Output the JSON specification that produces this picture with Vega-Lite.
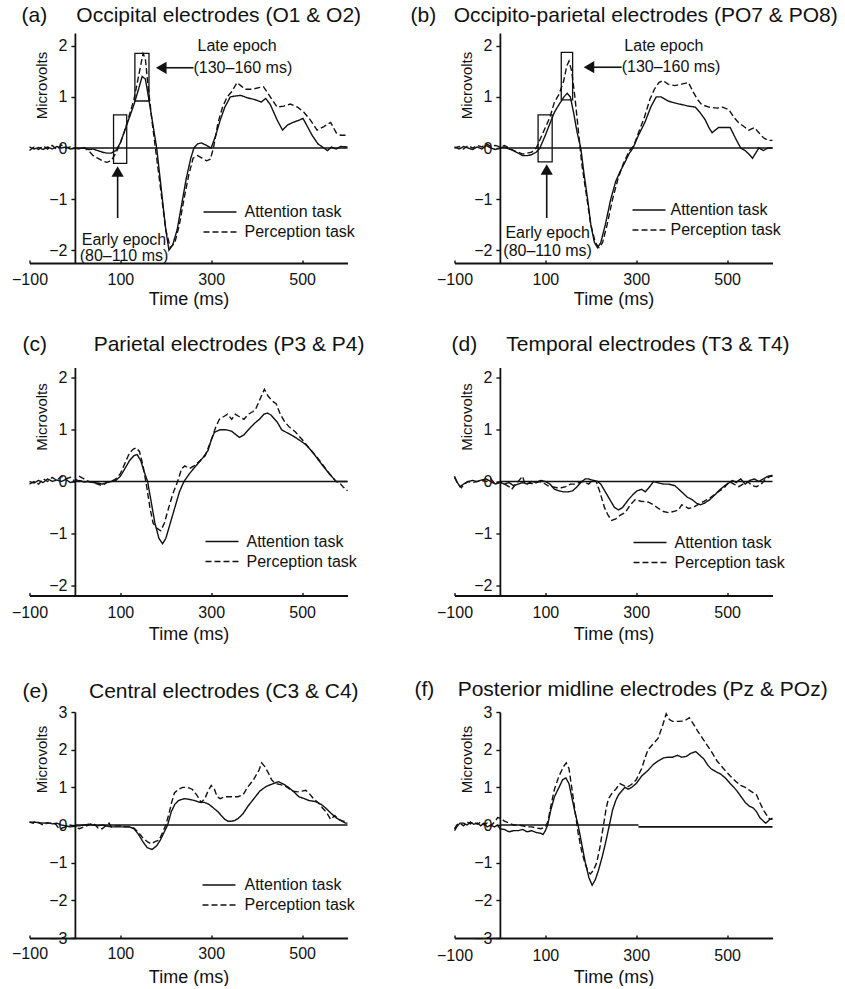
{
"$schema":"https://vega.github.io/schema/vega-lite/v6.json",
"padding":{"left":10.5,"top":5,"right":0,"bottom":0},
"config":{
 "view":{"stroke":null},
 "font":"Liberation Sans",
 "axis":{"grid":false,"domainColor":"#111","domainWidth":1.8,"tickColor":"#111","tickWidth":1.4,"labelColor":"#111","titleColor":"#111","labelFont":"Liberation Sans","titleFont":"Liberation Sans","labelFontSize":16,"titleFontWeight":"normal","labelFlush":false,"labelOverlap":false},
 "axisX":{"tickSize":-3,"titleFontSize":18,"titleBaseline":"alphabetic"},
 "axisY":{"tickSize":4,"labelPadding":4,"titleFontSize":15,"titleAngle":270,"titleAlign":"center","titleBaseline":"bottom","titleX":-25},
 "title":{"font":"Liberation Sans","fontSize":21,"fontWeight":"normal","anchor":"start","frame":"group","baseline":"alphabetic","color":"#111"},
 "legend":{"symbolType":"stroke","symbolSize":1089,"symbolStrokeWidth":1.5,"symbolStrokeColor":"#111","labelFontSize":16,"labelFont":"Liberation Sans","labelColor":"#111","clipHeight":20,"rowPadding":0,"padding":0},
 "line":{"strokeWidth":1.4,"color":"#111"},
 "text":{"font":"Liberation Sans","fontSize":16,"color":"#111"}
},
"datasets":{
 "a":[
  {"t":-100,"v":0.02,"task":"Attention task"},{"t":-90,"v":-0.02,"task":"Attention task"},{"t":-80,"v":0.01,"task":"Attention task"},{"t":-70,"v":-0.03,"task":"Attention task"},{"t":-60,"v":0.02,"task":"Attention task"},{"t":-50,"v":-0.02,"task":"Attention task"},{"t":-40,"v":0.03,"task":"Attention task"},{"t":-30,"v":0,"task":"Attention task"},{"t":-20,"v":0.02,"task":"Attention task"},{"t":-10,"v":-0.02,"task":"Attention task"},{"t":0,"v":0,"task":"Attention task"},{"t":10,"v":-0.01,"task":"Attention task"},{"t":20,"v":0,"task":"Attention task"},{"t":30,"v":-0.03,"task":"Attention task"},{"t":40,"v":-0.02,"task":"Attention task"},{"t":50,"v":-0.05,"task":"Attention task"},{"t":60,"v":-0.08,"task":"Attention task"},{"t":70,"v":-0.1,"task":"Attention task"},{"t":80,"v":-0.1,"task":"Attention task"},{"t":90,"v":-0.05,"task":"Attention task"},{"t":100,"v":0.1,"task":"Attention task"},{"t":110,"v":0.35,"task":"Attention task"},{"t":120,"v":0.6,"task":"Attention task"},{"t":130,"v":0.85,"task":"Attention task"},{"t":140,"v":1.15,"task":"Attention task"},{"t":148,"v":1.4,"task":"Attention task"},{"t":155,"v":1.35,"task":"Attention task"},{"t":160,"v":1.1,"task":"Attention task"},{"t":170,"v":0.55,"task":"Attention task"},{"t":180,"v":0,"task":"Attention task"},{"t":190,"v":-0.8,"task":"Attention task"},{"t":200,"v":-1.6,"task":"Attention task"},{"t":207,"v":-2,"task":"Attention task"},{"t":215,"v":-1.9,"task":"Attention task"},{"t":225,"v":-1.6,"task":"Attention task"},{"t":235,"v":-1.1,"task":"Attention task"},{"t":245,"v":-0.6,"task":"Attention task"},{"t":255,"v":-0.2,"task":"Attention task"},{"t":262,"v":0,"task":"Attention task"},{"t":270,"v":0.08,"task":"Attention task"},{"t":278,"v":0.1,"task":"Attention task"},{"t":290,"v":0.05,"task":"Attention task"},{"t":300,"v":0,"task":"Attention task"},{"t":310,"v":0.25,"task":"Attention task"},{"t":320,"v":0.55,"task":"Attention task"},{"t":330,"v":0.8,"task":"Attention task"},{"t":342,"v":1,"task":"Attention task"},{"t":355,"v":1.02,"task":"Attention task"},{"t":365,"v":1.03,"task":"Attention task"},{"t":380,"v":0.98,"task":"Attention task"},{"t":395,"v":0.95,"task":"Attention task"},{"t":410,"v":0.9,"task":"Attention task"},{"t":420,"v":0.97,"task":"Attention task"},{"t":430,"v":0.85,"task":"Attention task"},{"t":445,"v":0.55,"task":"Attention task"},{"t":457,"v":0.35,"task":"Attention task"},{"t":468,"v":0.45,"task":"Attention task"},{"t":480,"v":0.5,"task":"Attention task"},{"t":495,"v":0.55,"task":"Attention task"},{"t":502,"v":0.58,"task":"Attention task"},{"t":510,"v":0.45,"task":"Attention task"},{"t":522,"v":0.25,"task":"Attention task"},{"t":535,"v":0.08,"task":"Attention task"},{"t":548,"v":0,"task":"Attention task"},{"t":556,"v":-0.05,"task":"Attention task"},{"t":565,"v":0.02,"task":"Attention task"},{"t":575,"v":-0.02,"task":"Attention task"},{"t":585,"v":0.03,"task":"Attention task"},{"t":600,"v":0.02,"task":"Attention task"},
  {"t":-100,"v":-0.05,"task":"Perception task"},{"t":-90,"v":0.02,"task":"Perception task"},{"t":-80,"v":-0.03,"task":"Perception task"},{"t":-70,"v":0.04,"task":"Perception task"},{"t":-60,"v":-0.02,"task":"Perception task"},{"t":-50,"v":0.05,"task":"Perception task"},{"t":-40,"v":-0.03,"task":"Perception task"},{"t":-30,"v":0.06,"task":"Perception task"},{"t":-20,"v":0,"task":"Perception task"},{"t":-10,"v":0.02,"task":"Perception task"},{"t":0,"v":0,"task":"Perception task"},{"t":10,"v":-0.02,"task":"Perception task"},{"t":20,"v":0.01,"task":"Perception task"},{"t":30,"v":-0.05,"task":"Perception task"},{"t":40,"v":-0.15,"task":"Perception task"},{"t":50,"v":-0.2,"task":"Perception task"},{"t":60,"v":-0.25,"task":"Perception task"},{"t":70,"v":-0.28,"task":"Perception task"},{"t":80,"v":-0.25,"task":"Perception task"},{"t":90,"v":-0.1,"task":"Perception task"},{"t":100,"v":0.1,"task":"Perception task"},{"t":110,"v":0.35,"task":"Perception task"},{"t":120,"v":0.65,"task":"Perception task"},{"t":130,"v":0.95,"task":"Perception task"},{"t":140,"v":1.4,"task":"Perception task"},{"t":150,"v":1.85,"task":"Perception task"},{"t":155,"v":1.75,"task":"Perception task"},{"t":160,"v":1.3,"task":"Perception task"},{"t":170,"v":0.5,"task":"Perception task"},{"t":180,"v":-0.2,"task":"Perception task"},{"t":190,"v":-0.9,"task":"Perception task"},{"t":200,"v":-1.6,"task":"Perception task"},{"t":210,"v":-1.95,"task":"Perception task"},{"t":220,"v":-1.85,"task":"Perception task"},{"t":230,"v":-1.5,"task":"Perception task"},{"t":240,"v":-1,"task":"Perception task"},{"t":250,"v":-0.55,"task":"Perception task"},{"t":260,"v":-0.2,"task":"Perception task"},{"t":270,"v":-0.15,"task":"Perception task"},{"t":280,"v":-0.2,"task":"Perception task"},{"t":290,"v":-0.25,"task":"Perception task"},{"t":298,"v":-0.22,"task":"Perception task"},{"t":305,"v":0,"task":"Perception task"},{"t":315,"v":0.5,"task":"Perception task"},{"t":325,"v":0.8,"task":"Perception task"},{"t":335,"v":1,"task":"Perception task"},{"t":345,"v":1.1,"task":"Perception task"},{"t":357,"v":1.28,"task":"Perception task"},{"t":365,"v":1.22,"task":"Perception task"},{"t":375,"v":1.15,"task":"Perception task"},{"t":390,"v":1.15,"task":"Perception task"},{"t":405,"v":1.18,"task":"Perception task"},{"t":415,"v":1.2,"task":"Perception task"},{"t":430,"v":1,"task":"Perception task"},{"t":445,"v":0.8,"task":"Perception task"},{"t":460,"v":0.82,"task":"Perception task"},{"t":474,"v":0.86,"task":"Perception task"},{"t":490,"v":0.8,"task":"Perception task"},{"t":504,"v":0.7,"task":"Perception task"},{"t":518,"v":0.55,"task":"Perception task"},{"t":533,"v":0.35,"task":"Perception task"},{"t":548,"v":0.42,"task":"Perception task"},{"t":563,"v":0.5,"task":"Perception task"},{"t":575,"v":0.3,"task":"Perception task"},{"t":585,"v":0.25,"task":"Perception task"},{"t":600,"v":0.25,"task":"Perception task"}
 ],
 "b":[
  {"t":-100,"v":0.02,"task":"Attention task"},{"t":-90,"v":-0.02,"task":"Attention task"},{"t":-80,"v":0.03,"task":"Attention task"},{"t":-70,"v":0,"task":"Attention task"},{"t":-60,"v":-0.03,"task":"Attention task"},{"t":-50,"v":0.02,"task":"Attention task"},{"t":-40,"v":-0.02,"task":"Attention task"},{"t":-30,"v":0.05,"task":"Attention task"},{"t":-20,"v":0,"task":"Attention task"},{"t":-10,"v":-0.03,"task":"Attention task"},{"t":0,"v":0,"task":"Attention task"},{"t":10,"v":0.02,"task":"Attention task"},{"t":20,"v":-0.02,"task":"Attention task"},{"t":30,"v":-0.05,"task":"Attention task"},{"t":40,"v":-0.1,"task":"Attention task"},{"t":50,"v":-0.15,"task":"Attention task"},{"t":60,"v":-0.15,"task":"Attention task"},{"t":70,"v":-0.13,"task":"Attention task"},{"t":80,"v":-0.08,"task":"Attention task"},{"t":88,"v":0,"task":"Attention task"},{"t":100,"v":0.25,"task":"Attention task"},{"t":111,"v":0.5,"task":"Attention task"},{"t":120,"v":0.7,"task":"Attention task"},{"t":130,"v":0.85,"task":"Attention task"},{"t":141,"v":1,"task":"Attention task"},{"t":148,"v":1.07,"task":"Attention task"},{"t":155,"v":1,"task":"Attention task"},{"t":162,"v":0.7,"task":"Attention task"},{"t":170,"v":0.3,"task":"Attention task"},{"t":178,"v":0,"task":"Attention task"},{"t":185,"v":-0.5,"task":"Attention task"},{"t":193,"v":-1,"task":"Attention task"},{"t":200,"v":-1.5,"task":"Attention task"},{"t":208,"v":-1.85,"task":"Attention task"},{"t":215,"v":-1.95,"task":"Attention task"},{"t":222,"v":-1.85,"task":"Attention task"},{"t":232,"v":-1.5,"task":"Attention task"},{"t":244,"v":-1,"task":"Attention task"},{"t":255,"v":-0.65,"task":"Attention task"},{"t":265,"v":-0.45,"task":"Attention task"},{"t":274,"v":-0.3,"task":"Attention task"},{"t":285,"v":-0.1,"task":"Attention task"},{"t":293,"v":0,"task":"Attention task"},{"t":305,"v":0.25,"task":"Attention task"},{"t":319,"v":0.5,"task":"Attention task"},{"t":332,"v":0.8,"task":"Attention task"},{"t":344,"v":1,"task":"Attention task"},{"t":355,"v":1,"task":"Attention task"},{"t":370,"v":0.92,"task":"Attention task"},{"t":385,"v":0.88,"task":"Attention task"},{"t":400,"v":0.85,"task":"Attention task"},{"t":415,"v":0.82,"task":"Attention task"},{"t":430,"v":0.8,"task":"Attention task"},{"t":440,"v":0.7,"task":"Attention task"},{"t":452,"v":0.55,"task":"Attention task"},{"t":460,"v":0.4,"task":"Attention task"},{"t":467,"v":0.3,"task":"Attention task"},{"t":474,"v":0.35,"task":"Attention task"},{"t":481,"v":0.4,"task":"Attention task"},{"t":495,"v":0.4,"task":"Attention task"},{"t":507,"v":0.4,"task":"Attention task"},{"t":518,"v":0.2,"task":"Attention task"},{"t":530,"v":0,"task":"Attention task"},{"t":540,"v":-0.05,"task":"Attention task"},{"t":548,"v":-0.12,"task":"Attention task"},{"t":556,"v":-0.2,"task":"Attention task"},{"t":563,"v":-0.1,"task":"Attention task"},{"t":570,"v":0,"task":"Attention task"},{"t":580,"v":-0.05,"task":"Attention task"},{"t":590,"v":0,"task":"Attention task"},{"t":600,"v":0,"task":"Attention task"},
  {"t":-100,"v":0,"task":"Perception task"},{"t":-90,"v":0.03,"task":"Perception task"},{"t":-80,"v":-0.02,"task":"Perception task"},{"t":-70,"v":0.05,"task":"Perception task"},{"t":-60,"v":0,"task":"Perception task"},{"t":-50,"v":0.05,"task":"Perception task"},{"t":-40,"v":0.02,"task":"Perception task"},{"t":-30,"v":0.08,"task":"Perception task"},{"t":-20,"v":0.03,"task":"Perception task"},{"t":-10,"v":0.05,"task":"Perception task"},{"t":0,"v":0.02,"task":"Perception task"},{"t":10,"v":0.05,"task":"Perception task"},{"t":20,"v":0,"task":"Perception task"},{"t":30,"v":-0.05,"task":"Perception task"},{"t":40,"v":-0.08,"task":"Perception task"},{"t":50,"v":-0.12,"task":"Perception task"},{"t":60,"v":-0.1,"task":"Perception task"},{"t":70,"v":-0.08,"task":"Perception task"},{"t":80,"v":0,"task":"Perception task"},{"t":90,"v":0.2,"task":"Perception task"},{"t":100,"v":0.4,"task":"Perception task"},{"t":110,"v":0.6,"task":"Perception task"},{"t":120,"v":0.9,"task":"Perception task"},{"t":130,"v":1.05,"task":"Perception task"},{"t":140,"v":1.3,"task":"Perception task"},{"t":147,"v":1.6,"task":"Perception task"},{"t":152,"v":1.7,"task":"Perception task"},{"t":158,"v":1.5,"task":"Perception task"},{"t":165,"v":1,"task":"Perception task"},{"t":172,"v":0.4,"task":"Perception task"},{"t":180,"v":-0.3,"task":"Perception task"},{"t":190,"v":-0.9,"task":"Perception task"},{"t":200,"v":-1.5,"task":"Perception task"},{"t":210,"v":-1.85,"task":"Perception task"},{"t":218,"v":-1.95,"task":"Perception task"},{"t":226,"v":-1.85,"task":"Perception task"},{"t":236,"v":-1.5,"task":"Perception task"},{"t":248,"v":-1,"task":"Perception task"},{"t":260,"v":-0.6,"task":"Perception task"},{"t":272,"v":-0.3,"task":"Perception task"},{"t":285,"v":-0.05,"task":"Perception task"},{"t":295,"v":0.05,"task":"Perception task"},{"t":305,"v":0.3,"task":"Perception task"},{"t":318,"v":0.6,"task":"Perception task"},{"t":330,"v":0.95,"task":"Perception task"},{"t":340,"v":1.15,"task":"Perception task"},{"t":350,"v":1.28,"task":"Perception task"},{"t":359,"v":1.32,"task":"Perception task"},{"t":370,"v":1.25,"task":"Perception task"},{"t":385,"v":1.22,"task":"Perception task"},{"t":400,"v":1.25,"task":"Perception task"},{"t":415,"v":1.28,"task":"Perception task"},{"t":425,"v":1.1,"task":"Perception task"},{"t":435,"v":0.95,"task":"Perception task"},{"t":444,"v":0.85,"task":"Perception task"},{"t":460,"v":0.8,"task":"Perception task"},{"t":478,"v":0.78,"task":"Perception task"},{"t":490,"v":0.8,"task":"Perception task"},{"t":504,"v":0.75,"task":"Perception task"},{"t":515,"v":0.6,"task":"Perception task"},{"t":525,"v":0.5,"task":"Perception task"},{"t":537,"v":0.42,"task":"Perception task"},{"t":548,"v":0.35,"task":"Perception task"},{"t":560,"v":0.4,"task":"Perception task"},{"t":570,"v":0.3,"task":"Perception task"},{"t":580,"v":0.2,"task":"Perception task"},{"t":590,"v":0.15,"task":"Perception task"},{"t":600,"v":0.15,"task":"Perception task"}
 ],
 "c":[
  {"t":-100,"v":0,"task":"Attention task"},{"t":-90,"v":-0.03,"task":"Attention task"},{"t":-80,"v":0.02,"task":"Attention task"},{"t":-70,"v":-0.02,"task":"Attention task"},{"t":-60,"v":0.05,"task":"Attention task"},{"t":-50,"v":0,"task":"Attention task"},{"t":-40,"v":0.03,"task":"Attention task"},{"t":-30,"v":0,"task":"Attention task"},{"t":-20,"v":0.04,"task":"Attention task"},{"t":-10,"v":-0.02,"task":"Attention task"},{"t":0,"v":0,"task":"Attention task"},{"t":10,"v":0.02,"task":"Attention task"},{"t":20,"v":-0.01,"task":"Attention task"},{"t":30,"v":0,"task":"Attention task"},{"t":40,"v":-0.02,"task":"Attention task"},{"t":50,"v":-0.03,"task":"Attention task"},{"t":60,"v":-0.05,"task":"Attention task"},{"t":70,"v":-0.02,"task":"Attention task"},{"t":80,"v":0,"task":"Attention task"},{"t":90,"v":0.02,"task":"Attention task"},{"t":100,"v":0.1,"task":"Attention task"},{"t":110,"v":0.25,"task":"Attention task"},{"t":120,"v":0.4,"task":"Attention task"},{"t":130,"v":0.5,"task":"Attention task"},{"t":137,"v":0.52,"task":"Attention task"},{"t":145,"v":0.4,"task":"Attention task"},{"t":152,"v":0.2,"task":"Attention task"},{"t":160,"v":0,"task":"Attention task"},{"t":168,"v":-0.4,"task":"Attention task"},{"t":176,"v":-0.8,"task":"Attention task"},{"t":185,"v":-1.1,"task":"Attention task"},{"t":193,"v":-1.2,"task":"Attention task"},{"t":200,"v":-1.1,"task":"Attention task"},{"t":210,"v":-0.8,"task":"Attention task"},{"t":220,"v":-0.5,"task":"Attention task"},{"t":230,"v":-0.2,"task":"Attention task"},{"t":240,"v":0,"task":"Attention task"},{"t":252,"v":0.15,"task":"Attention task"},{"t":266,"v":0.3,"task":"Attention task"},{"t":281,"v":0.45,"task":"Attention task"},{"t":293,"v":0.6,"task":"Attention task"},{"t":300,"v":0.8,"task":"Attention task"},{"t":307,"v":0.95,"task":"Attention task"},{"t":320,"v":1,"task":"Attention task"},{"t":332,"v":1,"task":"Attention task"},{"t":345,"v":0.97,"task":"Attention task"},{"t":355,"v":0.9,"task":"Attention task"},{"t":362,"v":0.85,"task":"Attention task"},{"t":372,"v":0.9,"task":"Attention task"},{"t":382,"v":1,"task":"Attention task"},{"t":395,"v":1.12,"task":"Attention task"},{"t":406,"v":1.2,"task":"Attention task"},{"t":416,"v":1.3,"task":"Attention task"},{"t":424,"v":1.32,"task":"Attention task"},{"t":432,"v":1.28,"task":"Attention task"},{"t":445,"v":1.15,"task":"Attention task"},{"t":455,"v":1,"task":"Attention task"},{"t":465,"v":0.95,"task":"Attention task"},{"t":480,"v":0.88,"task":"Attention task"},{"t":494,"v":0.8,"task":"Attention task"},{"t":507,"v":0.72,"task":"Attention task"},{"t":520,"v":0.6,"task":"Attention task"},{"t":533,"v":0.45,"task":"Attention task"},{"t":546,"v":0.3,"task":"Attention task"},{"t":560,"v":0.15,"task":"Attention task"},{"t":575,"v":0,"task":"Attention task"},{"t":590,"v":0,"task":"Attention task"},{"t":600,"v":0,"task":"Attention task"},
  {"t":-100,"v":-0.05,"task":"Perception task"},{"t":-90,"v":0,"task":"Perception task"},{"t":-80,"v":-0.05,"task":"Perception task"},{"t":-70,"v":0.05,"task":"Perception task"},{"t":-60,"v":0,"task":"Perception task"},{"t":-50,"v":0.08,"task":"Perception task"},{"t":-40,"v":0.02,"task":"Perception task"},{"t":-30,"v":0.1,"task":"Perception task"},{"t":-20,"v":0.05,"task":"Perception task"},{"t":-10,"v":0.08,"task":"Perception task"},{"t":0,"v":0,"task":"Perception task"},{"t":10,"v":0.1,"task":"Perception task"},{"t":20,"v":0.05,"task":"Perception task"},{"t":30,"v":0,"task":"Perception task"},{"t":40,"v":-0.02,"task":"Perception task"},{"t":50,"v":-0.05,"task":"Perception task"},{"t":60,"v":-0.08,"task":"Perception task"},{"t":70,"v":-0.02,"task":"Perception task"},{"t":80,"v":0,"task":"Perception task"},{"t":90,"v":0.05,"task":"Perception task"},{"t":100,"v":0.15,"task":"Perception task"},{"t":110,"v":0.35,"task":"Perception task"},{"t":120,"v":0.55,"task":"Perception task"},{"t":128,"v":0.62,"task":"Perception task"},{"t":135,"v":0.65,"task":"Perception task"},{"t":142,"v":0.58,"task":"Perception task"},{"t":150,"v":0.3,"task":"Perception task"},{"t":158,"v":-0.1,"task":"Perception task"},{"t":165,"v":-0.5,"task":"Perception task"},{"t":172,"v":-0.8,"task":"Perception task"},{"t":180,"v":-0.9,"task":"Perception task"},{"t":189,"v":-0.95,"task":"Perception task"},{"t":197,"v":-0.8,"task":"Perception task"},{"t":205,"v":-0.55,"task":"Perception task"},{"t":215,"v":-0.25,"task":"Perception task"},{"t":226,"v":0,"task":"Perception task"},{"t":235,"v":0.25,"task":"Perception task"},{"t":242,"v":0.3,"task":"Perception task"},{"t":252,"v":0.25,"task":"Perception task"},{"t":262,"v":0.3,"task":"Perception task"},{"t":275,"v":0.4,"task":"Perception task"},{"t":287,"v":0.5,"task":"Perception task"},{"t":300,"v":0.8,"task":"Perception task"},{"t":310,"v":1.05,"task":"Perception task"},{"t":318,"v":1.2,"task":"Perception task"},{"t":327,"v":1.25,"task":"Perception task"},{"t":336,"v":1.3,"task":"Perception task"},{"t":345,"v":1.2,"task":"Perception task"},{"t":353,"v":1.3,"task":"Perception task"},{"t":362,"v":1.25,"task":"Perception task"},{"t":372,"v":1.2,"task":"Perception task"},{"t":382,"v":1.3,"task":"Perception task"},{"t":392,"v":1.35,"task":"Perception task"},{"t":398,"v":1.4,"task":"Perception task"},{"t":408,"v":1.6,"task":"Perception task"},{"t":417,"v":1.78,"task":"Perception task"},{"t":425,"v":1.65,"task":"Perception task"},{"t":435,"v":1.55,"task":"Perception task"},{"t":443,"v":1.5,"task":"Perception task"},{"t":452,"v":1.3,"task":"Perception task"},{"t":462,"v":1.15,"task":"Perception task"},{"t":472,"v":1.05,"task":"Perception task"},{"t":486,"v":0.95,"task":"Perception task"},{"t":501,"v":0.8,"task":"Perception task"},{"t":515,"v":0.65,"task":"Perception task"},{"t":530,"v":0.5,"task":"Perception task"},{"t":546,"v":0.32,"task":"Perception task"},{"t":560,"v":0.15,"task":"Perception task"},{"t":575,"v":0,"task":"Perception task"},{"t":582,"v":-0.02,"task":"Perception task"},{"t":590,"v":-0.1,"task":"Perception task"},{"t":600,"v":-0.18,"task":"Perception task"}
 ],
 "d":[
  {"t":-100,"v":0.1,"task":"Attention task"},{"t":-95,"v":0,"task":"Attention task"},{"t":-88,"v":-0.1,"task":"Attention task"},{"t":-80,"v":-0.05,"task":"Attention task"},{"t":-70,"v":0,"task":"Attention task"},{"t":-60,"v":0.02,"task":"Attention task"},{"t":-50,"v":0,"task":"Attention task"},{"t":-40,"v":0.03,"task":"Attention task"},{"t":-30,"v":0.05,"task":"Attention task"},{"t":-20,"v":0,"task":"Attention task"},{"t":-10,"v":-0.05,"task":"Attention task"},{"t":0,"v":-0.02,"task":"Attention task"},{"t":10,"v":-0.05,"task":"Attention task"},{"t":20,"v":-0.02,"task":"Attention task"},{"t":30,"v":-0.08,"task":"Attention task"},{"t":40,"v":-0.05,"task":"Attention task"},{"t":50,"v":-0.02,"task":"Attention task"},{"t":60,"v":-0.05,"task":"Attention task"},{"t":70,"v":0,"task":"Attention task"},{"t":80,"v":-0.02,"task":"Attention task"},{"t":90,"v":0.02,"task":"Attention task"},{"t":100,"v":0,"task":"Attention task"},{"t":110,"v":-0.05,"task":"Attention task"},{"t":120,"v":-0.15,"task":"Attention task"},{"t":130,"v":-0.18,"task":"Attention task"},{"t":140,"v":-0.2,"task":"Attention task"},{"t":150,"v":-0.2,"task":"Attention task"},{"t":160,"v":-0.18,"task":"Attention task"},{"t":170,"v":-0.1,"task":"Attention task"},{"t":180,"v":0,"task":"Attention task"},{"t":188,"v":0.05,"task":"Attention task"},{"t":195,"v":0.05,"task":"Attention task"},{"t":205,"v":0.02,"task":"Attention task"},{"t":215,"v":0,"task":"Attention task"},{"t":222,"v":-0.05,"task":"Attention task"},{"t":232,"v":-0.2,"task":"Attention task"},{"t":242,"v":-0.35,"task":"Attention task"},{"t":252,"v":-0.5,"task":"Attention task"},{"t":261,"v":-0.55,"task":"Attention task"},{"t":270,"v":-0.5,"task":"Attention task"},{"t":283,"v":-0.35,"task":"Attention task"},{"t":293,"v":-0.25,"task":"Attention task"},{"t":302,"v":-0.18,"task":"Attention task"},{"t":312,"v":-0.15,"task":"Attention task"},{"t":320,"v":-0.2,"task":"Attention task"},{"t":328,"v":-0.12,"task":"Attention task"},{"t":338,"v":0,"task":"Attention task"},{"t":350,"v":-0.03,"task":"Attention task"},{"t":360,"v":-0.05,"task":"Attention task"},{"t":371,"v":-0.05,"task":"Attention task"},{"t":385,"v":-0.08,"task":"Attention task"},{"t":400,"v":-0.2,"task":"Attention task"},{"t":412,"v":-0.3,"task":"Attention task"},{"t":423,"v":-0.35,"task":"Attention task"},{"t":433,"v":-0.42,"task":"Attention task"},{"t":441,"v":-0.45,"task":"Attention task"},{"t":450,"v":-0.42,"task":"Attention task"},{"t":462,"v":-0.35,"task":"Attention task"},{"t":474,"v":-0.25,"task":"Attention task"},{"t":485,"v":-0.15,"task":"Attention task"},{"t":495,"v":-0.08,"task":"Attention task"},{"t":505,"v":-0.02,"task":"Attention task"},{"t":512,"v":0.02,"task":"Attention task"},{"t":520,"v":-0.02,"task":"Attention task"},{"t":530,"v":0.05,"task":"Attention task"},{"t":540,"v":-0.05,"task":"Attention task"},{"t":550,"v":0.02,"task":"Attention task"},{"t":560,"v":0.05,"task":"Attention task"},{"t":570,"v":0,"task":"Attention task"},{"t":580,"v":0.05,"task":"Attention task"},{"t":590,"v":0.1,"task":"Attention task"},{"t":600,"v":0.12,"task":"Attention task"},
  {"t":-100,"v":0.08,"task":"Perception task"},{"t":-92,"v":-0.05,"task":"Perception task"},{"t":-85,"v":-0.12,"task":"Perception task"},{"t":-78,"v":-0.05,"task":"Perception task"},{"t":-70,"v":0,"task":"Perception task"},{"t":-60,"v":-0.02,"task":"Perception task"},{"t":-50,"v":0,"task":"Perception task"},{"t":-40,"v":0.02,"task":"Perception task"},{"t":-30,"v":0,"task":"Perception task"},{"t":-20,"v":0.05,"task":"Perception task"},{"t":-10,"v":-0.05,"task":"Perception task"},{"t":0,"v":0,"task":"Perception task"},{"t":10,"v":-0.05,"task":"Perception task"},{"t":20,"v":-0.1,"task":"Perception task"},{"t":26,"v":-0.15,"task":"Perception task"},{"t":35,"v":-0.05,"task":"Perception task"},{"t":45,"v":0.05,"task":"Perception task"},{"t":50,"v":0.1,"task":"Perception task"},{"t":55,"v":-0.05,"task":"Perception task"},{"t":65,"v":-0.03,"task":"Perception task"},{"t":75,"v":-0.05,"task":"Perception task"},{"t":85,"v":0,"task":"Perception task"},{"t":95,"v":-0.02,"task":"Perception task"},{"t":105,"v":-0.08,"task":"Perception task"},{"t":115,"v":-0.1,"task":"Perception task"},{"t":125,"v":-0.12,"task":"Perception task"},{"t":135,"v":-0.12,"task":"Perception task"},{"t":145,"v":-0.1,"task":"Perception task"},{"t":155,"v":-0.05,"task":"Perception task"},{"t":165,"v":-0.05,"task":"Perception task"},{"t":175,"v":-0.02,"task":"Perception task"},{"t":185,"v":0,"task":"Perception task"},{"t":195,"v":-0.05,"task":"Perception task"},{"t":205,"v":0.03,"task":"Perception task"},{"t":212,"v":0,"task":"Perception task"},{"t":220,"v":-0.2,"task":"Perception task"},{"t":230,"v":-0.5,"task":"Perception task"},{"t":238,"v":-0.65,"task":"Perception task"},{"t":246,"v":-0.75,"task":"Perception task"},{"t":255,"v":-0.72,"task":"Perception task"},{"t":265,"v":-0.65,"task":"Perception task"},{"t":276,"v":-0.6,"task":"Perception task"},{"t":287,"v":-0.45,"task":"Perception task"},{"t":298,"v":-0.35,"task":"Perception task"},{"t":310,"v":-0.38,"task":"Perception task"},{"t":327,"v":-0.4,"task":"Perception task"},{"t":338,"v":-0.45,"task":"Perception task"},{"t":349,"v":-0.52,"task":"Perception task"},{"t":360,"v":-0.58,"task":"Perception task"},{"t":371,"v":-0.6,"task":"Perception task"},{"t":382,"v":-0.58,"task":"Perception task"},{"t":393,"v":-0.55,"task":"Perception task"},{"t":400,"v":-0.45,"task":"Perception task"},{"t":408,"v":-0.48,"task":"Perception task"},{"t":415,"v":-0.52,"task":"Perception task"},{"t":425,"v":-0.5,"task":"Perception task"},{"t":435,"v":-0.45,"task":"Perception task"},{"t":450,"v":-0.38,"task":"Perception task"},{"t":465,"v":-0.3,"task":"Perception task"},{"t":480,"v":-0.2,"task":"Perception task"},{"t":494,"v":-0.12,"task":"Perception task"},{"t":505,"v":0,"task":"Perception task"},{"t":515,"v":-0.05,"task":"Perception task"},{"t":526,"v":-0.1,"task":"Perception task"},{"t":535,"v":-0.05,"task":"Perception task"},{"t":545,"v":0,"task":"Perception task"},{"t":555,"v":-0.08,"task":"Perception task"},{"t":565,"v":-0.1,"task":"Perception task"},{"t":575,"v":-0.05,"task":"Perception task"},{"t":585,"v":0.05,"task":"Perception task"},{"t":595,"v":0.1,"task":"Perception task"},{"t":600,"v":0.1,"task":"Perception task"}
 ],
 "e":[
  {"t":-100,"v":0.07,"task":"Attention task"},{"t":-90,"v":0.08,"task":"Attention task"},{"t":-80,"v":0.06,"task":"Attention task"},{"t":-70,"v":0.05,"task":"Attention task"},{"t":-60,"v":0.06,"task":"Attention task"},{"t":-50,"v":0.03,"task":"Attention task"},{"t":-40,"v":0.05,"task":"Attention task"},{"t":-30,"v":0,"task":"Attention task"},{"t":-20,"v":-0.02,"task":"Attention task"},{"t":-10,"v":-0.05,"task":"Attention task"},{"t":0,"v":-0.03,"task":"Attention task"},{"t":10,"v":-0.02,"task":"Attention task"},{"t":20,"v":0,"task":"Attention task"},{"t":30,"v":0.02,"task":"Attention task"},{"t":40,"v":0,"task":"Attention task"},{"t":50,"v":-0.02,"task":"Attention task"},{"t":60,"v":0,"task":"Attention task"},{"t":70,"v":-0.03,"task":"Attention task"},{"t":80,"v":-0.05,"task":"Attention task"},{"t":90,"v":-0.05,"task":"Attention task"},{"t":100,"v":-0.05,"task":"Attention task"},{"t":110,"v":-0.05,"task":"Attention task"},{"t":120,"v":-0.05,"task":"Attention task"},{"t":130,"v":-0.1,"task":"Attention task"},{"t":140,"v":-0.25,"task":"Attention task"},{"t":150,"v":-0.45,"task":"Attention task"},{"t":159,"v":-0.6,"task":"Attention task"},{"t":170,"v":-0.65,"task":"Attention task"},{"t":180,"v":-0.55,"task":"Attention task"},{"t":188,"v":-0.4,"task":"Attention task"},{"t":196,"v":-0.2,"task":"Attention task"},{"t":204,"v":0,"task":"Attention task"},{"t":212,"v":0.35,"task":"Attention task"},{"t":220,"v":0.55,"task":"Attention task"},{"t":228,"v":0.65,"task":"Attention task"},{"t":241,"v":0.7,"task":"Attention task"},{"t":252,"v":0.68,"task":"Attention task"},{"t":263,"v":0.65,"task":"Attention task"},{"t":275,"v":0.6,"task":"Attention task"},{"t":285,"v":0.6,"task":"Attention task"},{"t":295,"v":0.55,"task":"Attention task"},{"t":305,"v":0.45,"task":"Attention task"},{"t":315,"v":0.35,"task":"Attention task"},{"t":322,"v":0.25,"task":"Attention task"},{"t":330,"v":0.15,"task":"Attention task"},{"t":337,"v":0.1,"task":"Attention task"},{"t":344,"v":0.1,"task":"Attention task"},{"t":352,"v":0.12,"task":"Attention task"},{"t":360,"v":0.18,"task":"Attention task"},{"t":370,"v":0.3,"task":"Attention task"},{"t":381,"v":0.5,"task":"Attention task"},{"t":394,"v":0.7,"task":"Attention task"},{"t":407,"v":0.9,"task":"Attention task"},{"t":418,"v":1,"task":"Attention task"},{"t":426,"v":1.05,"task":"Attention task"},{"t":437,"v":1.1,"task":"Attention task"},{"t":448,"v":1.15,"task":"Attention task"},{"t":460,"v":1.08,"task":"Attention task"},{"t":470,"v":1,"task":"Attention task"},{"t":482,"v":0.88,"task":"Attention task"},{"t":493,"v":0.75,"task":"Attention task"},{"t":505,"v":0.7,"task":"Attention task"},{"t":515,"v":0.65,"task":"Attention task"},{"t":530,"v":0.62,"task":"Attention task"},{"t":542,"v":0.55,"task":"Attention task"},{"t":552,"v":0.45,"task":"Attention task"},{"t":563,"v":0.32,"task":"Attention task"},{"t":574,"v":0.2,"task":"Attention task"},{"t":585,"v":0.12,"task":"Attention task"},{"t":596,"v":0.05,"task":"Attention task"},{"t":600,"v":0.05,"task":"Attention task"},
  {"t":-100,"v":0.08,"task":"Perception task"},{"t":-92,"v":0.05,"task":"Perception task"},{"t":-85,"v":0.1,"task":"Perception task"},{"t":-78,"v":0.05,"task":"Perception task"},{"t":-70,"v":0,"task":"Perception task"},{"t":-60,"v":0.05,"task":"Perception task"},{"t":-50,"v":0.05,"task":"Perception task"},{"t":-42,"v":0.02,"task":"Perception task"},{"t":-35,"v":-0.1,"task":"Perception task"},{"t":-28,"v":-0.08,"task":"Perception task"},{"t":-20,"v":-0.05,"task":"Perception task"},{"t":-10,"v":0,"task":"Perception task"},{"t":0,"v":-0.05,"task":"Perception task"},{"t":10,"v":-0.1,"task":"Perception task"},{"t":20,"v":-0.05,"task":"Perception task"},{"t":30,"v":0,"task":"Perception task"},{"t":38,"v":0.05,"task":"Perception task"},{"t":45,"v":0,"task":"Perception task"},{"t":52,"v":-0.1,"task":"Perception task"},{"t":60,"v":-0.1,"task":"Perception task"},{"t":68,"v":-0.02,"task":"Perception task"},{"t":75,"v":0.05,"task":"Perception task"},{"t":80,"v":-0.05,"task":"Perception task"},{"t":90,"v":-0.03,"task":"Perception task"},{"t":100,"v":-0.02,"task":"Perception task"},{"t":110,"v":-0.05,"task":"Perception task"},{"t":120,"v":-0.05,"task":"Perception task"},{"t":130,"v":-0.08,"task":"Perception task"},{"t":140,"v":-0.2,"task":"Perception task"},{"t":150,"v":-0.35,"task":"Perception task"},{"t":160,"v":-0.45,"task":"Perception task"},{"t":168,"v":-0.5,"task":"Perception task"},{"t":175,"v":-0.45,"task":"Perception task"},{"t":185,"v":-0.4,"task":"Perception task"},{"t":193,"v":-0.2,"task":"Perception task"},{"t":200,"v":0,"task":"Perception task"},{"t":207,"v":0.3,"task":"Perception task"},{"t":213,"v":0.6,"task":"Perception task"},{"t":219,"v":0.85,"task":"Perception task"},{"t":228,"v":0.95,"task":"Perception task"},{"t":237,"v":1,"task":"Perception task"},{"t":248,"v":1,"task":"Perception task"},{"t":258,"v":0.95,"task":"Perception task"},{"t":268,"v":0.8,"task":"Perception task"},{"t":278,"v":0.6,"task":"Perception task"},{"t":286,"v":0.7,"task":"Perception task"},{"t":293,"v":0.9,"task":"Perception task"},{"t":300,"v":1.05,"task":"Perception task"},{"t":307,"v":0.95,"task":"Perception task"},{"t":313,"v":0.75,"task":"Perception task"},{"t":320,"v":0.7,"task":"Perception task"},{"t":330,"v":0.75,"task":"Perception task"},{"t":345,"v":0.75,"task":"Perception task"},{"t":359,"v":0.75,"task":"Perception task"},{"t":370,"v":0.8,"task":"Perception task"},{"t":380,"v":1,"task":"Perception task"},{"t":393,"v":1.2,"task":"Perception task"},{"t":400,"v":1.35,"task":"Perception task"},{"t":405,"v":1.45,"task":"Perception task"},{"t":411,"v":1.65,"task":"Perception task"},{"t":418,"v":1.55,"task":"Perception task"},{"t":425,"v":1.4,"task":"Perception task"},{"t":433,"v":1.2,"task":"Perception task"},{"t":441,"v":1.1,"task":"Perception task"},{"t":450,"v":1.08,"task":"Perception task"},{"t":460,"v":1.05,"task":"Perception task"},{"t":470,"v":0.98,"task":"Perception task"},{"t":480,"v":0.9,"task":"Perception task"},{"t":490,"v":0.88,"task":"Perception task"},{"t":500,"v":0.9,"task":"Perception task"},{"t":508,"v":0.92,"task":"Perception task"},{"t":515,"v":0.85,"task":"Perception task"},{"t":525,"v":0.7,"task":"Perception task"},{"t":535,"v":0.6,"task":"Perception task"},{"t":545,"v":0.45,"task":"Perception task"},{"t":553,"v":0.35,"task":"Perception task"},{"t":563,"v":0.15,"task":"Perception task"},{"t":572,"v":0.25,"task":"Perception task"},{"t":580,"v":0.15,"task":"Perception task"},{"t":590,"v":0.1,"task":"Perception task"},{"t":600,"v":0.1,"task":"Perception task"}
 ],
 "f":[
  {"t":-100,"v":-0.15,"task":"Attention task"},{"t":-95,"v":-0.05,"task":"Attention task"},{"t":-88,"v":0.05,"task":"Attention task"},{"t":-80,"v":0.05,"task":"Attention task"},{"t":-72,"v":0,"task":"Attention task"},{"t":-65,"v":0.08,"task":"Attention task"},{"t":-58,"v":0.02,"task":"Attention task"},{"t":-50,"v":0.05,"task":"Attention task"},{"t":-42,"v":-0.02,"task":"Attention task"},{"t":-35,"v":0.05,"task":"Attention task"},{"t":-28,"v":-0.05,"task":"Attention task"},{"t":-20,"v":0,"task":"Attention task"},{"t":-12,"v":-0.05,"task":"Attention task"},{"t":-5,"v":0,"task":"Attention task"},{"t":0,"v":-0.1,"task":"Attention task"},{"t":10,"v":-0.12,"task":"Attention task"},{"t":20,"v":-0.18,"task":"Attention task"},{"t":30,"v":-0.15,"task":"Attention task"},{"t":40,"v":-0.15,"task":"Attention task"},{"t":50,"v":-0.12,"task":"Attention task"},{"t":60,"v":-0.18,"task":"Attention task"},{"t":70,"v":-0.15,"task":"Attention task"},{"t":80,"v":-0.2,"task":"Attention task"},{"t":90,"v":-0.22,"task":"Attention task"},{"t":95,"v":-0.25,"task":"Attention task"},{"t":100,"v":-0.15,"task":"Attention task"},{"t":105,"v":0,"task":"Attention task"},{"t":112,"v":0.4,"task":"Attention task"},{"t":120,"v":0.75,"task":"Attention task"},{"t":130,"v":1,"task":"Attention task"},{"t":138,"v":1.2,"task":"Attention task"},{"t":145,"v":1.25,"task":"Attention task"},{"t":152,"v":1.1,"task":"Attention task"},{"t":158,"v":0.75,"task":"Attention task"},{"t":165,"v":0.35,"task":"Attention task"},{"t":172,"v":0,"task":"Attention task"},{"t":180,"v":-0.5,"task":"Attention task"},{"t":188,"v":-1,"task":"Attention task"},{"t":196,"v":-1.4,"task":"Attention task"},{"t":203,"v":-1.6,"task":"Attention task"},{"t":210,"v":-1.45,"task":"Attention task"},{"t":217,"v":-1.2,"task":"Attention task"},{"t":225,"v":-0.85,"task":"Attention task"},{"t":232,"v":-0.5,"task":"Attention task"},{"t":241,"v":0,"task":"Attention task"},{"t":248,"v":0.4,"task":"Attention task"},{"t":255,"v":0.65,"task":"Attention task"},{"t":261,"v":0.8,"task":"Attention task"},{"t":268,"v":0.9,"task":"Attention task"},{"t":275,"v":1,"task":"Attention task"},{"t":282,"v":0.95,"task":"Attention task"},{"t":290,"v":1,"task":"Attention task"},{"t":300,"v":1.1,"task":"Attention task"},{"t":312,"v":1.3,"task":"Attention task"},{"t":326,"v":1.45,"task":"Attention task"},{"t":337,"v":1.6,"task":"Attention task"},{"t":348,"v":1.7,"task":"Attention task"},{"t":360,"v":1.78,"task":"Attention task"},{"t":370,"v":1.8,"task":"Attention task"},{"t":380,"v":1.8,"task":"Attention task"},{"t":391,"v":1.85,"task":"Attention task"},{"t":400,"v":1.8,"task":"Attention task"},{"t":410,"v":1.82,"task":"Attention task"},{"t":420,"v":1.9,"task":"Attention task"},{"t":431,"v":1.95,"task":"Attention task"},{"t":440,"v":1.85,"task":"Attention task"},{"t":449,"v":1.75,"task":"Attention task"},{"t":457,"v":1.6,"task":"Attention task"},{"t":464,"v":1.5,"task":"Attention task"},{"t":475,"v":1.42,"task":"Attention task"},{"t":486,"v":1.35,"task":"Attention task"},{"t":496,"v":1.25,"task":"Attention task"},{"t":507,"v":1.1,"task":"Attention task"},{"t":515,"v":1,"task":"Attention task"},{"t":522,"v":0.9,"task":"Attention task"},{"t":531,"v":0.75,"task":"Attention task"},{"t":540,"v":0.6,"task":"Attention task"},{"t":549,"v":0.5,"task":"Attention task"},{"t":558,"v":0.45,"task":"Attention task"},{"t":565,"v":0.35,"task":"Attention task"},{"t":572,"v":0.2,"task":"Attention task"},{"t":580,"v":0.1,"task":"Attention task"},{"t":585,"v":0.05,"task":"Attention task"},{"t":590,"v":0.1,"task":"Attention task"},{"t":594,"v":0.15,"task":"Attention task"},{"t":600,"v":0.15,"task":"Attention task"},
  {"t":-100,"v":-0.1,"task":"Perception task"},{"t":-95,"v":0,"task":"Perception task"},{"t":-88,"v":0.05,"task":"Perception task"},{"t":-80,"v":-0.02,"task":"Perception task"},{"t":-72,"v":0.08,"task":"Perception task"},{"t":-65,"v":0.03,"task":"Perception task"},{"t":-58,"v":0.08,"task":"Perception task"},{"t":-50,"v":0.02,"task":"Perception task"},{"t":-42,"v":0.08,"task":"Perception task"},{"t":-35,"v":0,"task":"Perception task"},{"t":-28,"v":0.05,"task":"Perception task"},{"t":-20,"v":-0.02,"task":"Perception task"},{"t":-10,"v":0.1,"task":"Perception task"},{"t":-5,"v":0.2,"task":"Perception task"},{"t":2,"v":0.18,"task":"Perception task"},{"t":10,"v":0.1,"task":"Perception task"},{"t":20,"v":0.05,"task":"Perception task"},{"t":30,"v":0,"task":"Perception task"},{"t":40,"v":0,"task":"Perception task"},{"t":50,"v":-0.02,"task":"Perception task"},{"t":60,"v":-0.05,"task":"Perception task"},{"t":70,"v":-0.05,"task":"Perception task"},{"t":80,"v":-0.08,"task":"Perception task"},{"t":90,"v":-0.1,"task":"Perception task"},{"t":100,"v":-0.05,"task":"Perception task"},{"t":106,"v":0.1,"task":"Perception task"},{"t":112,"v":0.5,"task":"Perception task"},{"t":120,"v":0.95,"task":"Perception task"},{"t":130,"v":1.3,"task":"Perception task"},{"t":140,"v":1.55,"task":"Perception task"},{"t":146,"v":1.65,"task":"Perception task"},{"t":152,"v":1.5,"task":"Perception task"},{"t":158,"v":1,"task":"Perception task"},{"t":165,"v":0.4,"task":"Perception task"},{"t":172,"v":-0.2,"task":"Perception task"},{"t":180,"v":-0.7,"task":"Perception task"},{"t":188,"v":-1.05,"task":"Perception task"},{"t":195,"v":-1.25,"task":"Perception task"},{"t":199,"v":-1.3,"task":"Perception task"},{"t":206,"v":-1.2,"task":"Perception task"},{"t":213,"v":-1,"task":"Perception task"},{"t":220,"v":-0.6,"task":"Perception task"},{"t":228,"v":0,"task":"Perception task"},{"t":234,"v":0.45,"task":"Perception task"},{"t":239,"v":0.7,"task":"Perception task"},{"t":247,"v":0.85,"task":"Perception task"},{"t":255,"v":0.95,"task":"Perception task"},{"t":264,"v":1.1,"task":"Perception task"},{"t":272,"v":1.05,"task":"Perception task"},{"t":280,"v":1,"task":"Perception task"},{"t":290,"v":1.08,"task":"Perception task"},{"t":300,"v":1.2,"task":"Perception task"},{"t":312,"v":1.5,"task":"Perception task"},{"t":320,"v":1.8,"task":"Perception task"},{"t":326,"v":2,"task":"Perception task"},{"t":337,"v":2.15,"task":"Perception task"},{"t":348,"v":2.3,"task":"Perception task"},{"t":357,"v":2.6,"task":"Perception task"},{"t":366,"v":2.95,"task":"Perception task"},{"t":373,"v":2.8,"task":"Perception task"},{"t":380,"v":2.75,"task":"Perception task"},{"t":392,"v":2.75,"task":"Perception task"},{"t":406,"v":2.76,"task":"Perception task"},{"t":417,"v":2.85,"task":"Perception task"},{"t":425,"v":2.7,"task":"Perception task"},{"t":435,"v":2.5,"task":"Perception task"},{"t":446,"v":2.3,"task":"Perception task"},{"t":457,"v":2.1,"task":"Perception task"},{"t":468,"v":1.9,"task":"Perception task"},{"t":478,"v":1.7,"task":"Perception task"},{"t":492,"v":1.5,"task":"Perception task"},{"t":507,"v":1.3,"task":"Perception task"},{"t":520,"v":1.15,"task":"Perception task"},{"t":530,"v":1.05,"task":"Perception task"},{"t":540,"v":1,"task":"Perception task"},{"t":552,"v":0.9,"task":"Perception task"},{"t":565,"v":0.8,"task":"Perception task"},{"t":572,"v":0.6,"task":"Perception task"},{"t":580,"v":0.4,"task":"Perception task"},{"t":588,"v":0.25,"task":"Perception task"},{"t":594,"v":0.15,"task":"Perception task"},{"t":600,"v":0.18,"task":"Perception task"}
 ]
},
"resolve":{"scale":{"strokeDash":"independent"},"legend":{"strokeDash":"independent"}},
"spacing":25.5,
"vconcat":[
 {
  "bounds":"flush","spacing":107,
  "resolve":{"scale":{"strokeDash":"independent"},"legend":{"strokeDash":"independent"}},
  "hconcat":[
   {
    "width":318,"height":230,
    "title":{"text":"(a)\u00a0\u00a0\u00a0\u00a0\u00a0Occipital electrodes (O1 & O2)","dx":-8,"offset":7},
    "encoding":{
     "x":{"field":"t","type":"quantitative","scale":{"domain":[-100,600],"nice":false,"zero":false},"axis":{"values":[-100,100,300,500],"title":"Time (ms)","titleY":41,"labelPadding":11}},
     "y":{"field":"v","type":"quantitative","scale":{"domain":[-2.25,2.25],"nice":false,"zero":false},"axis":{"values":[-2,-1,0,1,2],"offset":-45.4,"title":"Microvolts","titleY":52}}
    },
    "layer":[
     {"data":{"name":"a"},"mark":{"type":"line"},"encoding":{"strokeDash":{"field":"task","type":"nominal","scale":{"domain":["Attention task","Perception task"],"range":[[1,0],[6,3]]},"legend":{"title":null,"orient":"none","legendX":173,"legendY":169,"labelOffset":7}}}},
     {"data":{"values":[{"t":0,"t2":600,"v":0}]},"mark":{"type":"rule","color":"#111","strokeWidth":1.6},"encoding":{"x2":{"field":"t2"}}},
     {"data":{"values":[{"t":85,"t2":114,"v":-0.3,"v2":0.65},{"t":132,"t2":163,"v":0.92,"v2":1.85}]},"mark":{"type":"rect","filled":false,"color":"#111","strokeWidth":1.3},"encoding":{"x2":{"field":"t2"},"y2":{"field":"v2"}}},
     {"data":{"values":[{"t":94,"t2":94,"v":-1.37,"v2":-0.5},{"t":200,"t2":261,"v":1.57,"v2":1.57}]},"mark":{"type":"rule","color":"#111","strokeWidth":1.6},"encoding":{"x2":{"field":"t2"},"y2":{"field":"v2"}}},
     {"data":{"values":[{"t":94,"v":-0.46}]},"mark":{"type":"point","shape":"triangle-up","filled":true,"size":150,"color":"#111","opacity":1},"encoding":{}},
     {"data":{"values":[{"t":190,"v":1.57}]},"mark":{"type":"point","shape":"triangle-left","filled":true,"size":150,"color":"#111","opacity":1},"encoding":{}},
     {"data":{"values":[{"t":357,"v":2.0,"label":"Late epoch"},{"t":108,"v":-1.8,"label":"Early epoch"},{"t":108,"v":-2.12,"label":"(80–110 ms)"}]},"mark":{"type":"text","align":"center","baseline":"middle"},"encoding":{"text":{"field":"label"}}},
     {"data":{"values":[{"t":261,"v":1.57,"label":"(130–160 ms)"}]},"mark":{"type":"text","align":"left","baseline":"middle"},"encoding":{"text":{"field":"label"}}}
    ]
   },
   {
    "width":318,"height":230,
    "title":{"text":"(b)\u00a0\u00a0\u00a0Occipito-parietal electrodes (PO7 & PO8)","dx":-44,"offset":7},
    "encoding":{
     "x":{"field":"t","type":"quantitative","scale":{"domain":[-100,600],"nice":false,"zero":false},"axis":{"values":[-100,100,300,500],"title":"Time (ms)","titleY":41,"labelPadding":11}},
     "y":{"field":"v","type":"quantitative","scale":{"domain":[-2.25,2.25],"nice":false,"zero":false},"axis":{"values":[-2,-1,0,1,2],"offset":-45.4,"title":"Microvolts","titleY":52}}
    },
    "layer":[
     {"data":{"name":"b"},"mark":{"type":"line"},"encoding":{"strokeDash":{"field":"task","type":"nominal","scale":{"domain":["Attention task","Perception task"],"range":[[1,0],[6,3]]},"legend":{"title":null,"orient":"none","legendX":177,"legendY":167,"labelOffset":4}}}},
     {"data":{"values":[{"t":0,"t2":600,"v":0}]},"mark":{"type":"rule","color":"#111","strokeWidth":1.6},"encoding":{"x2":{"field":"t2"}}},
     {"data":{"values":[{"t":84,"t2":115,"v":-0.27,"v2":0.65},{"t":135,"t2":160,"v":0.94,"v2":1.87}]},"mark":{"type":"rect","filled":false,"color":"#111","strokeWidth":1.3},"encoding":{"x2":{"field":"t2"},"y2":{"field":"v2"}}},
     {"data":{"values":[{"t":103,"t2":103,"v":-1.37,"v2":-0.45},{"t":205,"t2":268,"v":1.58,"v2":1.58}]},"mark":{"type":"rule","color":"#111","strokeWidth":1.6},"encoding":{"x2":{"field":"t2"},"y2":{"field":"v2"}}},
     {"data":{"values":[{"t":103,"v":-0.42}]},"mark":{"type":"point","shape":"triangle-up","filled":true,"size":150,"color":"#111","opacity":1},"encoding":{}},
     {"data":{"values":[{"t":196,"v":1.58}]},"mark":{"type":"point","shape":"triangle-left","filled":true,"size":150,"color":"#111","opacity":1},"encoding":{}},
     {"data":{"values":[{"t":361,"v":2.0,"label":"Late epoch"},{"t":105,"v":-1.67,"label":"Early epoch"},{"t":105,"v":-2.01,"label":"(80–110 ms)"}]},"mark":{"type":"text","align":"center","baseline":"middle"},"encoding":{"text":{"field":"label"}}},
     {"data":{"values":[{"t":268,"v":1.58,"label":"(130–160 ms)"}]},"mark":{"type":"text","align":"left","baseline":"middle"},"encoding":{"text":{"field":"label"}}}
    ]
   }
  ]
 },
 {
  "spacing":35.5,
  "resolve":{"scale":{"strokeDash":"independent"},"legend":{"strokeDash":"independent"}},
  "vconcat":[
   {
    "bounds":"flush","spacing":107,
    "resolve":{"scale":{"strokeDash":"independent"},"legend":{"strokeDash":"independent"}},
    "hconcat":[
     {
      "width":318,"height":228,
      "title":{"text":"(c)\u00a0\u00a0\u00a0\u00a0\u00a0\u00a0\u00a0\u00a0Parietal electrodes (P3 & P4)","dx":-7,"offset":13},
      "encoding":{
       "x":{"field":"t","type":"quantitative","scale":{"domain":[-100,600],"nice":false,"zero":false},"axis":{"values":[-100,100,300,500],"title":"Time (ms)","titleY":44,"labelPadding":12}},
       "y":{"field":"v","type":"quantitative","scale":{"domain":[-2.2,2.2],"nice":false,"zero":false},"axis":{"values":[-2,-1,0,1,2],"offset":-45.4,"title":"Microvolts","titleY":49}}
      },
      "layer":[
       {"data":{"name":"c"},"mark":{"type":"line"},"encoding":{"strokeDash":{"field":"task","type":"nominal","scale":{"domain":["Attention task","Perception task"],"range":[[1,0],[6,3]]},"legend":{"title":null,"orient":"none","legendX":175,"legendY":164,"labelOffset":7}}}},
       {"data":{"values":[{"t":0,"t2":600,"v":0}]},"mark":{"type":"rule","color":"#111","strokeWidth":1.6},"encoding":{"x2":{"field":"t2"}}}
      ]
     },
     {
      "width":318,"height":228,
      "title":{"text":"(d)\u00a0\u00a0\u00a0\u00a0\u00a0Temporal electrodes (T3 & T4)","dx":-3,"offset":13},
      "encoding":{
       "x":{"field":"t","type":"quantitative","scale":{"domain":[-100,600],"nice":false,"zero":false},"axis":{"values":[-100,100,300,500],"title":"Time (ms)","titleY":44,"labelPadding":12}},
       "y":{"field":"v","type":"quantitative","scale":{"domain":[-2.2,2.2],"nice":false,"zero":false},"axis":{"values":[-2,-1,0,1,2],"offset":-45.4,"title":"Microvolts","titleY":49}}
      },
      "layer":[
       {"data":{"name":"d"},"mark":{"type":"line"},"encoding":{"strokeDash":{"field":"task","type":"nominal","scale":{"domain":["Attention task","Perception task"],"range":[[1,0],[6,3]]},"legend":{"title":null,"orient":"none","legendX":178,"legendY":165,"labelOffset":7}}}},
       {"data":{"values":[{"t":0,"t2":600,"v":0}]},"mark":{"type":"rule","color":"#111","strokeWidth":1.6},"encoding":{"x2":{"field":"t2"}}}
      ]
     }
    ]
   },
   {
    "bounds":"flush","spacing":107,
    "resolve":{"scale":{"strokeDash":"independent"},"legend":{"strokeDash":"independent"}},
    "hconcat":[
     {
      "width":318,"height":226,
      "title":{"text":"(e)\u00a0\u00a0\u00a0\u00a0\u00a0\u00a0\u00a0Central electrodes (C3 & C4)","dx":-7,"offset":2},
      "encoding":{
       "x":{"field":"t","type":"quantitative","scale":{"domain":[-100,600],"nice":false,"zero":false},"axis":{"values":[-100,100,300,500],"title":"Time (ms)","titleY":44,"labelPadding":10}},
       "y":{"field":"v","type":"quantitative","scale":{"domain":[-3,3],"nice":false,"zero":false},"axis":{"values":[-3,-2,-1,0,1,2,3],"offset":-45.4,"title":"Microvolts","titleY":47}}
      },
      "layer":[
       {"data":{"name":"e"},"mark":{"type":"line"},"encoding":{"strokeDash":{"field":"task","type":"nominal","scale":{"domain":["Attention task","Perception task"],"range":[[1,0],[6,3]]},"legend":{"title":null,"orient":"none","legendX":172,"legendY":163,"labelOffset":8}}}},
       {"data":{"values":[{"t":0,"t2":600,"v":0}]},"mark":{"type":"rule","color":"#111","strokeWidth":1.6},"encoding":{"x2":{"field":"t2"}}}
      ]
     },
     {
      "width":318,"height":226,
      "title":{"text":"(f)\u00a0\u00a0\u00a0\u00a0Posterior midline electrodes (Pz & POz)","dx":-40,"offset":4},
      "encoding":{
       "x":{"field":"t","type":"quantitative","scale":{"domain":[-100,600],"nice":false,"zero":false},"axis":{"values":[-100,100,300,500],"title":"Time (ms)","titleY":44,"labelPadding":12}},
       "y":{"field":"v","type":"quantitative","scale":{"domain":[-3,3],"nice":false,"zero":false},"axis":{"values":[-3,-2,-1,0,1,2,3],"offset":-45.4,"title":"Microvolts","titleY":47}}
      },
      "layer":[
       {"data":{"name":"f"},"mark":{"type":"line"},"encoding":{"strokeDash":{"field":"task","type":"nominal","scale":{"domain":["Attention task","Perception task"],"range":[[1,0],[6,3]]},"legend":null}}},
       {"data":{"values":[{"t":0,"t2":305,"v":0},{"t":305,"t2":600,"v":-0.05}]},"mark":{"type":"rule","color":"#111","strokeWidth":1.6},"encoding":{"x2":{"field":"t2"}}}
      ]
     }
    ]
   }
  ]
 }
]
}
